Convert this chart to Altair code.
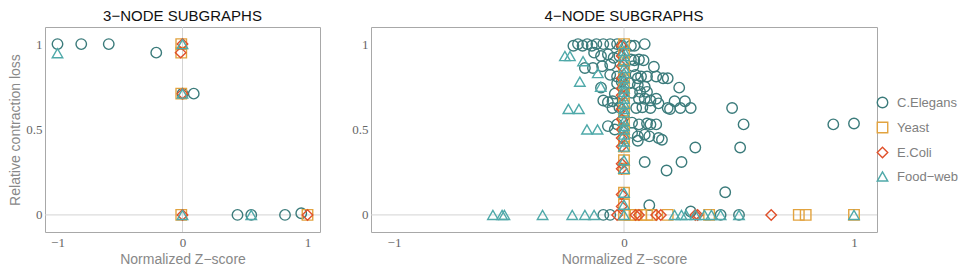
import altair as alt
import pandas as pd

series_names = ["C.Elegans", "Yeast", "E.Coli", "Food\u2212web"]
series_colors = ["#3b7b7b", "#e2a33f", "#e0502a", "#4fa9a9"]
series_shapes = ["circle", "square", "diamond", "triangle-up"]
series_sizes = [110, 110, 75, 160]

panel_titles = ["3\u2212NODE SUBGRAPHS", "4\u2212NODE SUBGRAPHS"]
x_ticks = [-1, 0, 1]
y_ticks = [0, 0.5, 1]
zero_lines = [0]

# ---------------- 3-node subgraphs ----------------
c3_x = [-1.0, -0.81, -0.59, -0.21, 0.09, 0.0, 0.44, 0.55, 0.82, 0.95]
c3_y = [1.0, 1.0, 1.0, 0.95, 0.71, 0.71, 0.0, 0.0, 0.0, 0.01]
y3_x = [-0.01, -0.01, -0.01, -0.01, 1.0]
y3_y = [1.0, 0.95, 0.71, 0.0, 0.0]
e3_x = [0.0, -0.015, 0.0, 0.0, 1.0]
e3_y = [1.0, 0.95, 0.71, 0.0, 0.0]
f3_x = [-1.0, 0.0, 0.0, 0.0, 0.55]
f3_y = [0.947, 1.0, 0.71, 0.0, 0.0]

# ---------------- 4-node subgraphs ----------------
c4_x = [-0.22, -0.20, -0.18, -0.16, -0.14, -0.12, -0.09, -0.06, -0.03, -0.01, 0.03, 0.045, 0.09,
        -0.13, -0.10, -0.07, -0.045, -0.02, 0.03, 0.045, 0.065, 0.085,
        -0.17, -0.135, -0.095, -0.06, 0.04, 0.13,
        -0.06, -0.03, 0.05, 0.06, 0.074, 0.10, 0.14, 0.17, 0.19,
        -0.10, -0.03, -0.01, 0.025, 0.06, 0.09, 0.24,
        -0.04, 0.035, 0.07, 0.10,
        -0.09, -0.07, -0.05, 0.065, 0.09, 0.115, 0.14, 0.15, 0.22, 0.265,
        -0.05, -0.02, 0.053, 0.08, 0.115, 0.19, 0.20, 0.245, 0.29, 0.47,
        -0.07, -0.03, 0.035, 0.065, 0.10, 0.115, 0.14, 0.52, 0.91, 1.0,
        -0.04,
        0.035, 0.06, 0.09, 0.11, 0.15, 0.165, 0.06,
        0.31, 0.505, 0.09, 0.25, 0.185, 0.44, 0.11, 0.29,
        -0.09, -0.06, 0.42, 0.50]
c4_y = [0.99, 1.0, 0.99, 1.0, 0.99, 1.0, 1.0, 1.0, 1.0, 0.99, 0.99, 0.99, 1.0,
        0.95, 0.93, 0.94, 0.92, 0.93, 0.91, 0.905, 0.91, 0.905,
        0.86, 0.86, 0.87, 0.88, 0.87, 0.867,
        0.82, 0.81, 0.82, 0.80, 0.81, 0.81, 0.81, 0.80, 0.80,
        0.745, 0.77, 0.78, 0.77, 0.76, 0.75, 0.745,
        0.71, 0.715, 0.72, 0.72,
        0.67, 0.66, 0.665, 0.68, 0.68, 0.67, 0.68, 0.653, 0.665, 0.665,
        0.626, 0.63, 0.626, 0.63, 0.626, 0.626, 0.62, 0.626, 0.626, 0.626,
        0.52, 0.53, 0.54, 0.53, 0.535, 0.53, 0.53, 0.53, 0.53, 0.535,
        0.50,
        0.48, 0.46, 0.47, 0.46, 0.45, 0.44, 0.434,
        0.395, 0.395, 0.31, 0.31, 0.26, 0.133, 0.057, 0.02,
        0.0, 0.0, 0.0, 0.0]

y4_x = [0.0] * 18 + [0.025, 0.05, 0.075, 0.10, 0.12, 0.19, 0.37, 0.76, 0.79, 1.0]
y4_y = [1.0, 0.95, 0.90, 0.85, 0.80, 0.75, 0.70, 0.65, 0.60, 0.55, 0.50, 0.45, 0.40,
        0.32, 0.27, 0.13, 0.06, 0.0,
        0.0, 0.0, 0.0, 0.0, 0.0, 0.0, 0.0, 0.0, 0.0, 0.0]

e4_x = [-0.01] * 15 + [-0.03, 0.05, 0.065, 0.14, 0.16, 0.31, 0.32, 0.64]
e4_y = [0.99, 0.93, 0.87, 0.80, 0.74, 0.70, 0.62, 0.56, 0.50, 0.45, 0.40, 0.30, 0.27, 0.12, 0.05,
        0.0, 0.0, 0.0, 0.0, 0.0, 0.0, 0.0, 0.0]

f4_x = [-0.257, -0.235, -0.178, -0.114, -0.192, -0.101, -0.242, -0.196, -0.161, -0.115,
        -0.57, -0.53, -0.52, -0.354, -0.225, -0.17, -0.13,
        0.22, 0.25, 0.27, 0.31, 0.35, 0.38, 0.42, 0.50, 1.0] + [0.0] * 25
f4_y = [0.93, 0.93, 0.90, 0.83, 0.78, 0.75, 0.62, 0.62, 0.50, 0.50,
        0.0, 0.0, 0.0, 0.0, 0.0, 0.0, 0.0,
        0.0, 0.0, 0.0, 0.0, 0.0, 0.0, 0.0, 0.0, 0.0] + \
       [1.0, 0.96, 0.93, 0.90, 0.86, 0.83, 0.80, 0.77, 0.74, 0.72, 0.68, 0.65, 0.62,
        0.60, 0.55, 0.52, 0.50, 0.47, 0.43, 0.40, 0.32, 0.27, 0.13, 0.06, 0.0]


def build(groups):
    rows = []
    for k, (xs, ys) in enumerate(groups):
        for xv, yv in zip(xs, ys):
            rows.append({"series": series_names[k], "x": xv, "y": yv, "k": k})
    return pd.DataFrame(rows)


df3 = build([(c3_x, c3_y), (y3_x, y3_y), (e3_x, e3_y), (f3_x, f3_y)])
df4 = build([(c4_x, c4_y), (y4_x, y4_y), (e4_x, e4_y), (f4_x, f4_y)])
zero_df = pd.DataFrame({"v": zero_lines})

LABEL_FONT = "Liberation Serif"
TITLE_FONT = "Liberation Sans"
PLOT_H = 205


def panel(df, title, width, y_title):
    xs = alt.Scale(domain=[-1.1, 1.1], nice=False, zero=False)
    ys = alt.Scale(domain=[-0.1, 1.1], nice=False, zero=False)
    xaxis = alt.Axis(values=x_ticks, format="~g", title="Normalized Z\u2212score",
                     grid=False, ticks=False, domain=False, labelPadding=4, titlePadding=3)
    yaxis = alt.Axis(values=y_ticks, format="~g", title=y_title if y_title else None,
                     grid=False, ticks=False, domain=False, labelPadding=3, titlePadding=3)
    vline = alt.Chart(zero_df).mark_rule(color="#d4d4d4", strokeWidth=1).encode(
        x=alt.X("v:Q", scale=xs, axis=xaxis))
    hline = alt.Chart(zero_df).mark_rule(color="#d4d4d4", strokeWidth=1).encode(
        y=alt.Y("v:Q", scale=ys, axis=yaxis))
    pts = alt.Chart(df).mark_point(filled=False, strokeWidth=1.4, opacity=1).encode(
        x=alt.X("x:Q", scale=xs, axis=xaxis),
        y=alt.Y("y:Q", scale=ys, axis=yaxis),
        color=alt.Color("series:N", scale=alt.Scale(domain=series_names, range=series_colors),
                        legend=alt.Legend(title=None, orient="none", legendX=831, legendY=69,
                                          labelFont=TITLE_FONT, labelFontSize=13,
                                          labelColor="#808080", rowPadding=8,
                                          symbolStrokeWidth=1.4, labelOffset=8)),
        shape=alt.Shape("series:N", scale=alt.Scale(domain=series_names, range=series_shapes)),
        size=alt.Size("series:N", scale=alt.Scale(domain=series_names, range=series_sizes)),
        order=alt.Order("k:Q"),
    )
    return alt.layer(vline, hline, pts).properties(
        width=width, height=PLOT_H,
        title=alt.TitleParams(title, anchor="middle", fontSize=15, font=TITLE_FONT,
                              fontWeight="normal", color="#111", offset=3),
    )


left = panel(df3, panel_titles[0], 275, "Relative contraction loss")
right = panel(df4, panel_titles[1], 506, None)

chart = alt.hconcat(left, right, spacing=30).properties(
    padding={"left": 0, "top": 0, "right": 0, "bottom": 0}
).configure_view(
    stroke="#a8a8a8", strokeWidth=1
).configure_axis(
    labelFont=LABEL_FONT, labelFontSize=13, labelColor="#666666",
    titleFont=TITLE_FONT, titleFontSize=14, titleColor="#888888", titleFontWeight="normal",
)

chart.save("out.html", embed_options={"renderer": "svg", "actions": False})
